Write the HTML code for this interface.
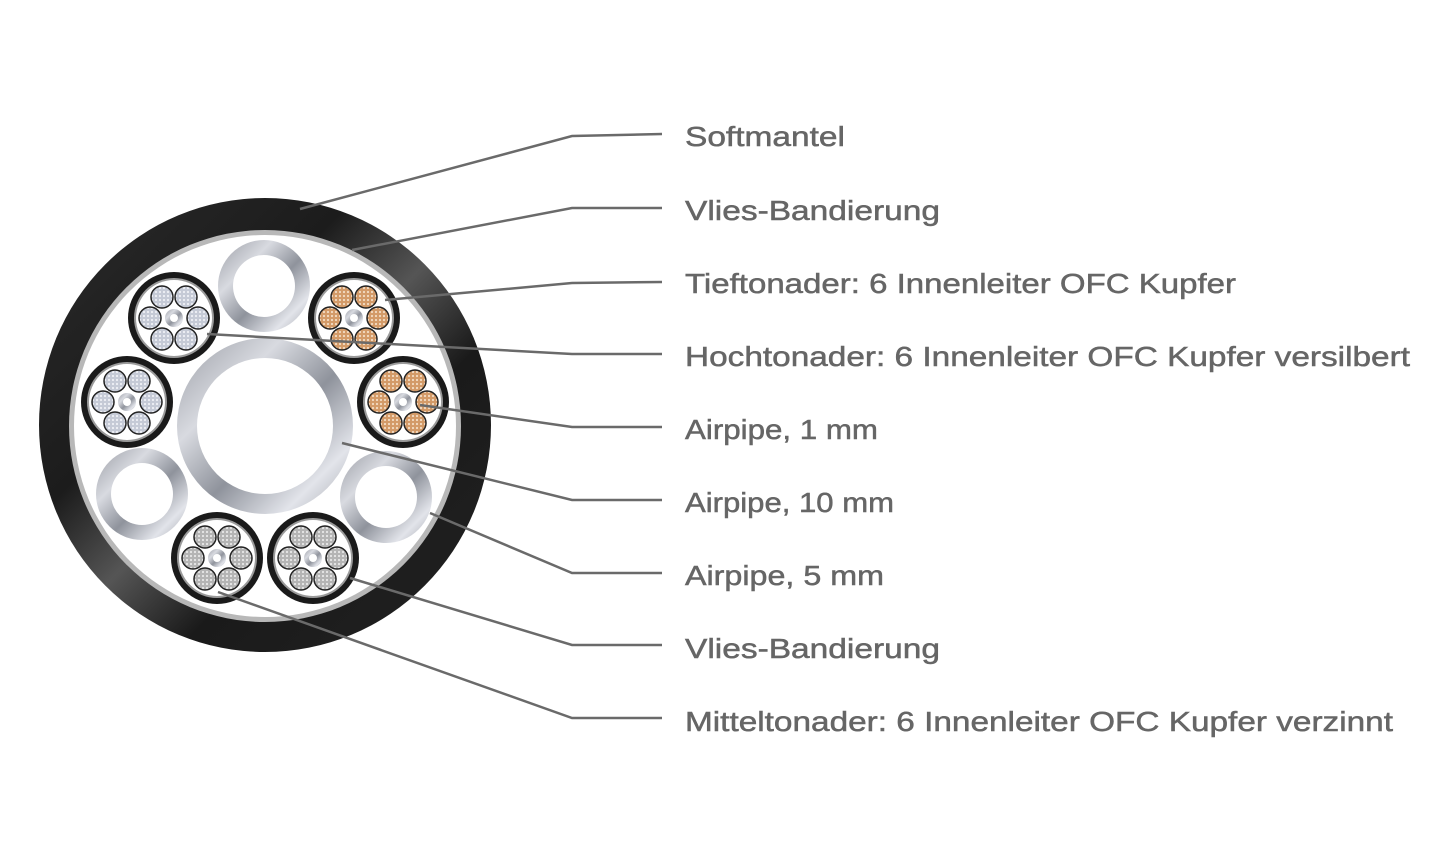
<!DOCTYPE html>
<html><head><meta charset="utf-8"><style>
html,body{margin:0;padding:0;background:#fff}
svg{display:block}
text{font-family:"Liberation Sans",sans-serif;font-size:28px;fill:#666;stroke:#666;stroke-width:0.5}
</style></head><body>
<svg width="1445" height="864" viewBox="0 0 1445 864" xmlns="http://www.w3.org/2000/svg">
<defs>
<linearGradient id="jacket" x1="0" y1="0" x2="1" y2="1">
<stop offset="0" stop-color="#2a2a2a"/><stop offset="0.35" stop-color="#1c1c1c"/><stop offset="0.5" stop-color="#555"/><stop offset="0.65" stop-color="#1a1a1a"/><stop offset="1" stop-color="#222"/></linearGradient>
<linearGradient id="pipe" x1="0" y1="0" x2="1" y2="1">
<stop offset="0" stop-color="#9a9da5"/><stop offset="0.3" stop-color="#d8dae0"/><stop offset="0.55" stop-color="#8f939c"/><stop offset="0.8" stop-color="#e2e4ea"/><stop offset="1" stop-color="#a0a3ab"/></linearGradient>
<pattern id="pS" width="4" height="4" patternUnits="userSpaceOnUse"><rect width="4" height="4" fill="#c5cad6"/><circle cx="2" cy="2" r="1.1" fill="#eef0f5"/></pattern>
<pattern id="pC" width="4" height="4" patternUnits="userSpaceOnUse"><rect width="4" height="4" fill="#d39a68"/><circle cx="2" cy="2" r="1.1" fill="#f3dcc4"/></pattern>
<pattern id="pT" width="4" height="4" patternUnits="userSpaceOnUse"><rect width="4" height="4" fill="#b4b4b4"/><circle cx="2" cy="2" r="1.1" fill="#e8e8e8"/></pattern>
<g id="wiresS"><g fill="url(#pS)" stroke="#222" stroke-width="1.5">
<circle cx="12" cy="-21" r="11"/><circle cx="-12" cy="-21" r="11"/><circle cx="24" cy="0" r="11"/><circle cx="-24" cy="0" r="11"/><circle cx="12" cy="21" r="11"/><circle cx="-12" cy="21" r="11"/></g></g>
<g id="wiresC"><g fill="url(#pC)" stroke="#222" stroke-width="1.5">
<circle cx="12" cy="-21" r="11"/><circle cx="-12" cy="-21" r="11"/><circle cx="24" cy="0" r="11"/><circle cx="-24" cy="0" r="11"/><circle cx="12" cy="21" r="11"/><circle cx="-12" cy="21" r="11"/></g></g>
<g id="wiresT"><g fill="url(#pT)" stroke="#222" stroke-width="1.5">
<circle cx="12" cy="-21" r="11"/><circle cx="-12" cy="-21" r="11"/><circle cx="24" cy="0" r="11"/><circle cx="-24" cy="0" r="11"/><circle cx="12" cy="21" r="11"/><circle cx="-12" cy="21" r="11"/></g></g>
<g id="shell"><circle r="46" fill="#1a1a1a"/><circle r="40" fill="#9a9a9a"/><circle r="38" fill="#fff"/><circle r="9" fill="url(#pipe)"/><circle r="4" fill="#fff"/></g>
</defs>
<!-- jacket -->
<ellipse cx="265" cy="425" rx="226" ry="227" fill="url(#jacket)"/>
<circle cx="265" cy="426" r="196" fill="#b8b8b8"/>
<circle cx="265" cy="426" r="191" fill="#fff"/>
<!-- pipes -->
<circle cx="265" cy="426" r="88" fill="url(#pipe)"/><circle cx="265" cy="426" r="68" fill="#fff"/>
<circle cx="264" cy="286" r="46" fill="url(#pipe)"/><circle cx="264" cy="286" r="31" fill="#fff"/>
<circle cx="142" cy="494" r="46" fill="url(#pipe)"/><circle cx="142" cy="494" r="31" fill="#fff"/>
<circle cx="386" cy="497" r="46" fill="url(#pipe)"/><circle cx="386" cy="497" r="31" fill="#fff"/>
<!-- bundles -->
<g transform="translate(174,318)"><use href="#shell"/><use href="#wiresS"/></g>
<g transform="translate(127,402)"><use href="#shell"/><use href="#wiresS"/></g>
<g transform="translate(354,318)"><use href="#shell"/><use href="#wiresC"/></g>
<g transform="translate(403,402)"><use href="#shell"/><use href="#wiresC"/></g>
<g transform="translate(217,558)"><use href="#shell"/><use href="#wiresT"/></g>
<g transform="translate(313,558)"><use href="#shell"/><use href="#wiresT"/></g>
<!-- leader lines -->
<g fill="none" stroke="#6a6a6a" stroke-width="2.5">
<polyline points="300,209 572,136 662,134"/>
<polyline points="352,250 572,208 662,208"/>
<polyline points="385,300 572,283 662,282"/>
<polyline points="207,334 572,354 662,354"/>
<polyline points="420,405 572,427 662,427"/>
<polyline points="342,443 572,500 662,500"/>
<polyline points="430,513 572,573 662,573"/>
<polyline points="350,578 572,645 662,645"/>
<polyline points="218,592 572,718 662,718"/>
</g>
<text x="685" y="146" textLength="160" lengthAdjust="spacingAndGlyphs">Softmantel</text>
<text x="685" y="220" textLength="255" lengthAdjust="spacingAndGlyphs">Vlies-Bandierung</text>
<text x="685" y="293" textLength="551" lengthAdjust="spacingAndGlyphs">Tieftonader: 6 Innenleiter OFC Kupfer</text>
<text x="685" y="366" textLength="725" lengthAdjust="spacingAndGlyphs">Hochtonader: 6 Innenleiter OFC Kupfer versilbert</text>
<text x="685" y="439" textLength="193" lengthAdjust="spacingAndGlyphs">Airpipe, 1 mm</text>
<text x="685" y="512" textLength="209" lengthAdjust="spacingAndGlyphs">Airpipe, 10 mm</text>
<text x="685" y="585" textLength="199" lengthAdjust="spacingAndGlyphs">Airpipe, 5 mm</text>
<text x="685" y="658" textLength="255" lengthAdjust="spacingAndGlyphs">Vlies-Bandierung</text>
<text x="685" y="731" textLength="708" lengthAdjust="spacingAndGlyphs">Mitteltonader: 6 Innenleiter OFC Kupfer verzinnt</text>
</svg>
</body></html>
